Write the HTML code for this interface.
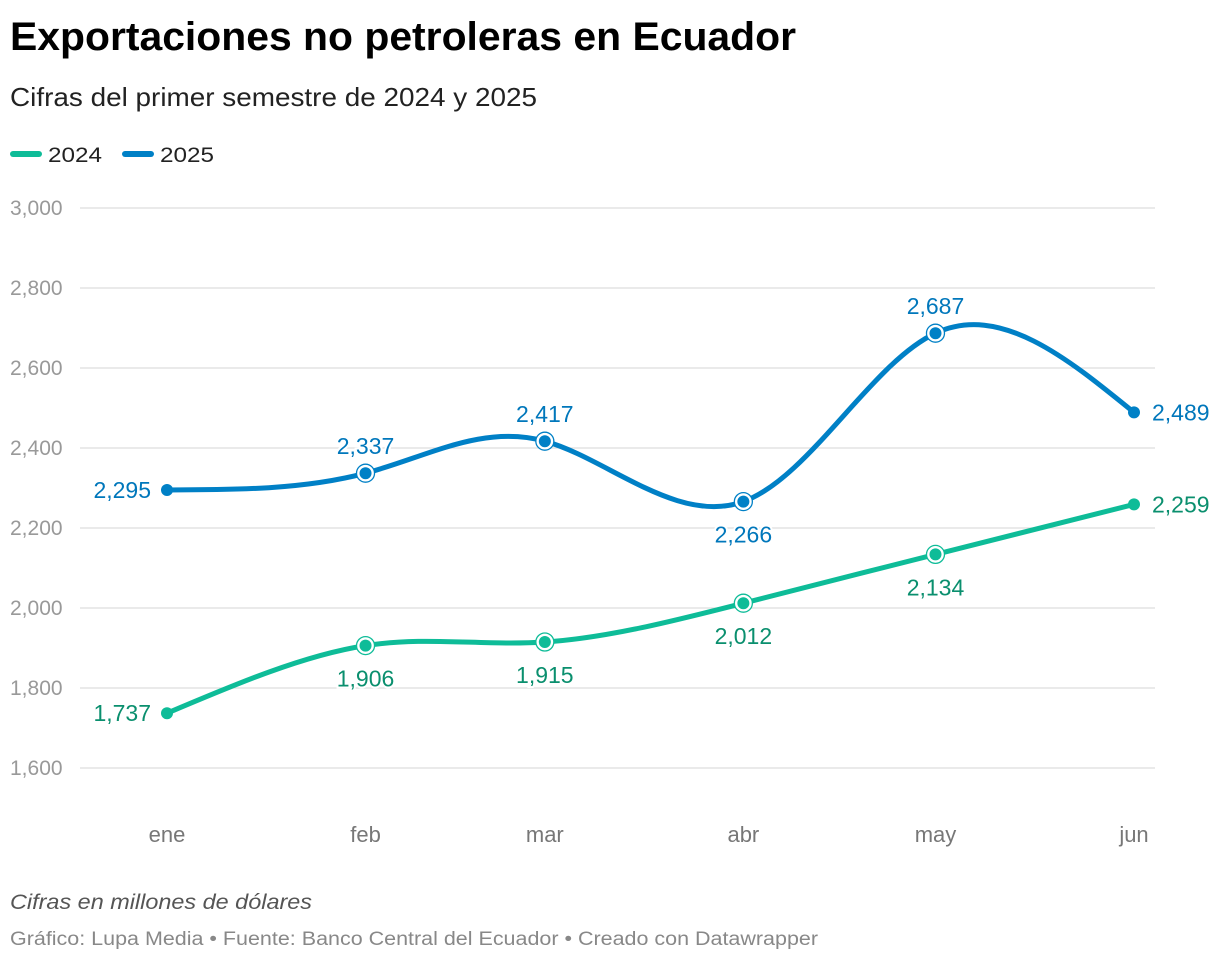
<!DOCTYPE html>
<html><head><meta charset="utf-8">
<style>
body{margin:0;background:#fff;font-family:"Liberation Sans",sans-serif;}
#wrap{position:relative;width:1220px;height:962px;overflow:hidden;}
</style></head>
<body>
<div id="wrap">
<svg id="chart" width="1220" height="962">
<text x="10" y="50" font-size="40" font-weight="bold" fill="#000" textLength="786" lengthAdjust="spacingAndGlyphs">Exportaciones no petroleras en Ecuador</text>
<text x="10" y="106" font-size="26" fill="#222" textLength="527" lengthAdjust="spacingAndGlyphs">Cifras del primer semestre de 2024 y 2025</text>
<g>
<g><rect x="10" y="151" width="32" height="6" rx="3" fill="#0ebc98"/><text x="48" y="162" font-size="21" fill="#222" textLength="54" lengthAdjust="spacingAndGlyphs">2024</text></g>
<g><rect x="122" y="151" width="32" height="6" rx="3" fill="#0080c6"/><text x="160" y="162" font-size="21" fill="#222" textLength="54" lengthAdjust="spacingAndGlyphs">2025</text></g>
</g>
<g id="grid"></g><g id="series"></g>
<text x="10" y="909" font-size="21" font-style="italic" fill="#555" textLength="302" lengthAdjust="spacingAndGlyphs">Cifras en millones de dólares</text>
<text x="10" y="945" font-size="19" fill="#888" textLength="808" lengthAdjust="spacingAndGlyphs">Gráfico: Lupa Media • Fuente: Banco Central del Ecuador • Creado con Datawrapper</text>
</svg>
</div>
<script>
const months = ["ene","feb","mar","abr","may","jun"];
const monthDays = [0,31,59,90,120,151];
const values2024 = [1737,1906,1915,2012,2134,2259];
const values2025 = [2295,2337,2417,2266,2687,2489];
const yTicks = [1600,1800,2000,2200,2400,2600,2800,3000];

const NS="http://www.w3.org/2000/svg";
const x = d => 167 + d*(1134-167)/151;
const y = v => 768 - (v-1600)*(560/1400);
function el(tag, attrs, parent){const e=document.createElementNS(NS,tag);for(const k in attrs)e.setAttribute(k,attrs[k]);parent.appendChild(e);return e;}
const grid=document.getElementById('grid'), series=document.getElementById('series');
yTicks.forEach(t=>{
  const l=el('line',{x1:80,x2:1155,y1:y(t),y2:y(t),stroke:'#ddd','stroke-width':1.3},grid);
  
  
  const tx=el('text',{x:10,y:y(t)+7,'font-size':21,fill:'#999'},grid);
  tx.textContent=t.toLocaleString('en-US');
  
  
});
months.forEach((m,i)=>{
  const tx=el('text',{x:x(monthDays[i]),y:842,'font-size':22,fill:'#777','text-anchor':'middle'},grid);
  tx.textContent=m;
  
  
});
// natural cubic spline control points (d3 curveNatural)
function naturalCP(xs){
  const n=xs.length-1,a=[],b=[],r=[];
  a[0]=0;b[0]=2;r[0]=xs[0]+2*xs[1];
  for(let i=1;i<n-1;i++){a[i]=1;b[i]=4;r[i]=4*xs[i]+2*xs[i+1];}
  a[n-1]=2;b[n-1]=7;r[n-1]=8*xs[n-1]+xs[n];
  for(let i=1;i<n;i++){const m=a[i]/b[i-1];b[i]-=m;r[i]-=m*r[i-1];}
  const A=[],B=[];
  A[n-1]=r[n-1]/b[n-1];
  for(let i=n-2;i>=0;i--)A[i]=(r[i]-A[i+1])/b[i];
  B[n-1]=(xs[n]+A[n-1])/2;
  for(let i=0;i<n-1;i++)B[i]=2*xs[i+1]-A[i+1];
  return [A,B];
}
function natural(pts){
  const xs=pts.map(p=>p[0]),ys=pts.map(p=>p[1]);
  const [ax,bx]=naturalCP(xs),[ay,by]=naturalCP(ys);
  let d=`M${xs[0]},${ys[0]}`;
  for(let i=0;i<pts.length-1;i++)d+=`C${ax[i]},${ay[i]} ${bx[i]},${by[i]} ${xs[i+1]},${ys[i+1]}`;
  return d;
}
function draw(vals,color,textColor,name,pos){
  const g=el('g',{},series);
  
  
  const pts=vals.map((v,i)=>[x(monthDays[i]),y(v)]);
  const p=el('path',{d:natural(pts),fill:'none',stroke:color,'stroke-width':5,'stroke-linecap':'round'},g);
  
  
  pts.forEach((pt,i)=>{
    const end=(i===0||i===pts.length-1);
    if(!end){
      const r=el('circle',{cx:pt[0],cy:pt[1],r:9,fill:'#fff',stroke:color,'stroke-width':1.3},g);
      
      
    }
    const c=el('circle',{cx:pt[0],cy:pt[1],r:6,fill:color},g);
    
    
    let lx=pt[0],ly,anchor='middle';
    if(i===0){lx=pt[0]-16;ly=pt[1]+8;anchor='end';}
    else if(i===pts.length-1){lx=pt[0]+18;ly=pt[1]+8;anchor='start';}
    else if(pos[i]==='up'){ly=pt[1]-19;}
    else {ly=pt[1]+41;}
    const t=el('text',{x:lx,y:ly,'font-size':23,fill:textColor,'text-anchor':anchor,stroke:'#fff','stroke-width':4,'paint-order':'stroke'},g);
    t.textContent=vals[i].toLocaleString('en-US');
    
    
  });
}
draw(values2024,'#0ebc98','#0a8f6e','2024',['','down','down','down','down','']);
draw(values2025,'#0080c6','#0077bb','2025',['','up','up','down','up','']);
</script>
</body></html>
